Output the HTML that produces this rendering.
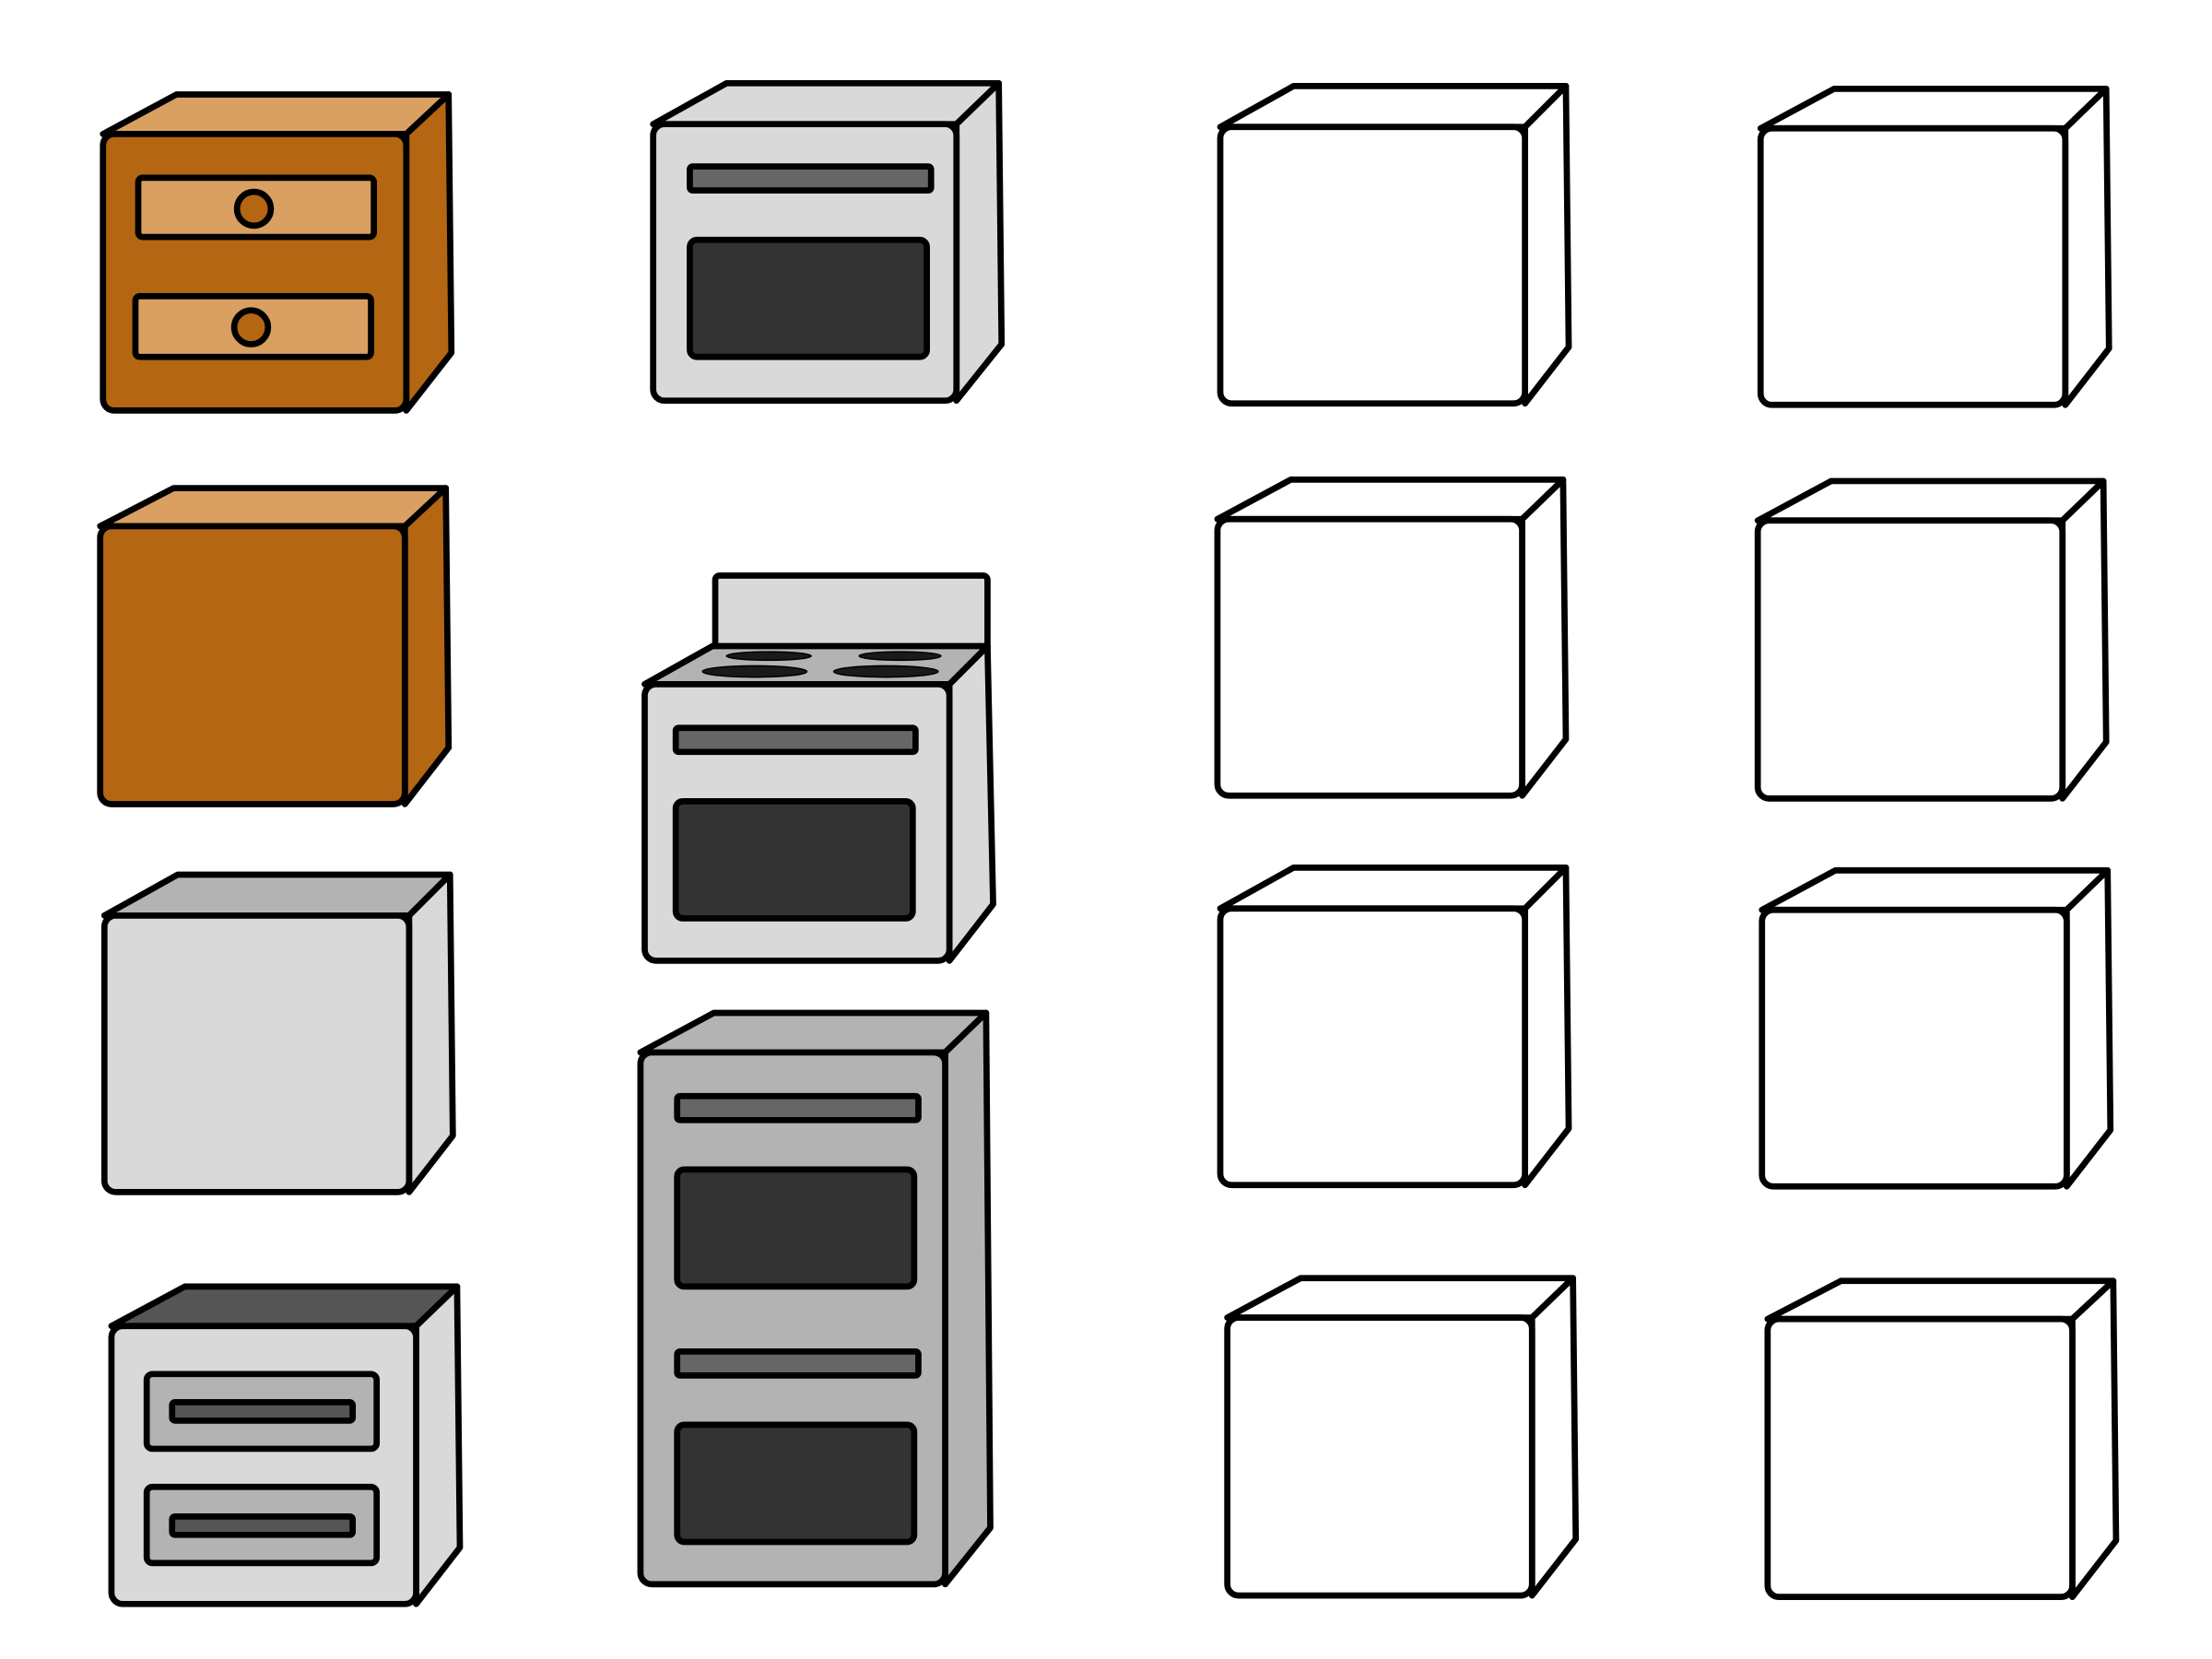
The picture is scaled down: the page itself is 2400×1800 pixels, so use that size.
<!DOCTYPE html>
<html><head><meta charset="utf-8"><style>html,body{margin:0;padding:0;background:#fff;width:2400px;height:1800px;overflow:hidden}svg{display:block}</style></head>
<body>
<svg width="2400" height="1800" viewBox="0 0 1568 1176" xmlns="http://www.w3.org/2000/svg">
<g stroke="#000" stroke-width="4.4" stroke-linejoin="round" stroke-linecap="round">
<!-- A brown drawers -->
<polygon points="73,95 125,67 318,67 288,95" fill="#d9a062"/>
<polygon points="288,95 318,67 320,250 288,291" fill="#b46612"/>
<rect x="73" y="95" width="215" height="196" rx="8" fill="#b46612"/>
<rect x="98" y="126" width="167" height="42" rx="3" fill="#d9a062"/>
<ellipse cx="180" cy="148" rx="12" ry="12" fill="#b46612"/>
<rect x="96" y="210" width="167" height="43" rx="3" fill="#d9a062"/>
<ellipse cx="178" cy="232" rx="12" ry="12" fill="#b46612"/>
<!-- B oven -->
<polygon points="463,88 515,59 708,59 678,88" fill="#d9d9d9"/>
<polygon points="678,88 708,59 710,244 678,284" fill="#d9d9d9"/>
<rect x="463" y="88" width="215" height="196" rx="8" fill="#d9d9d9"/>
<rect x="489" y="118" width="171" height="17" rx="2" fill="#666"/>
<rect x="489" y="170" width="168" height="83" rx="5" fill="#333"/>
<!-- C -->
<polygon points="865,90 917,61 1110,61 1081,90" fill="#fff"/>
<polygon points="1081,90 1110,61 1112,246 1081,286" fill="#fff"/>
<rect x="865" y="90" width="216" height="196" rx="8" fill="#fff"/>
<!-- D -->
<polygon points="1248,91 1300,63 1493,63 1464,91" fill="#fff"/>
<polygon points="1464,91 1493,63 1495,247 1464,287" fill="#fff"/>
<rect x="1248" y="91" width="216" height="196" rx="8" fill="#fff"/>
<!-- E brown plain -->
<polygon points="71,373 123,346 316,346 287,373" fill="#d9a062"/>
<polygon points="287,373 316,346 318,530 287,570" fill="#b46612"/>
<rect x="71" y="373" width="216" height="197" rx="8" fill="#b46612"/>
<!-- F -->
<polygon points="863,368 915,340 1108,340 1079,368" fill="#fff"/>
<polygon points="1079,368 1108,340 1110,524 1079,564" fill="#fff"/>
<rect x="863" y="368" width="216" height="196" rx="8" fill="#fff"/>
<!-- G -->
<polygon points="1246,369 1298,341 1491,341 1462,369" fill="#fff"/>
<polygon points="1462,369 1491,341 1493,526 1462,566" fill="#fff"/>
<rect x="1246" y="369" width="216" height="197" rx="8" fill="#fff"/>
<!-- H stove -->
<rect x="507" y="408" width="193" height="55" rx="3" fill="#d9d9d9"/>
<polygon points="673,485 700,458 704,641 673,681" fill="#d9d9d9"/>
<polygon points="457,485 505,458 700,458 673,485" fill="#b3b3b3"/>
<rect x="457" y="485" width="216" height="196" rx="8" fill="#d9d9d9"/>
<rect x="479" y="516" width="170" height="17" rx="2" fill="#666"/>
<rect x="479" y="568" width="168" height="83" rx="5" fill="#333"/>
</g>
<g fill="#1a1a1a" stroke="#000" stroke-width="1">
<ellipse cx="545" cy="465" rx="30" ry="3"/>
<ellipse cx="638" cy="465" rx="29" ry="3"/>
<ellipse cx="535" cy="476" rx="37" ry="4"/>
<ellipse cx="628" cy="476" rx="37" ry="4"/>
</g>
<g stroke="#000" stroke-width="4.4" stroke-linejoin="round" stroke-linecap="round">
<!-- I grey -->
<polygon points="74,649 126,620 319,620 290,649" fill="#b3b3b3"/>
<polygon points="290,649 319,620 321,805 290,845" fill="#d9d9d9"/>
<rect x="74" y="649" width="216" height="196" rx="8" fill="#d9d9d9"/>
<!-- J -->
<polygon points="865,644 917,615 1110,615 1081,644" fill="#fff"/>
<polygon points="1081,644 1110,615 1112,800 1081,840" fill="#fff"/>
<rect x="865" y="644" width="216" height="196" rx="8" fill="#fff"/>
<!-- K -->
<polygon points="1249,645 1301,617 1494,617 1465,645" fill="#fff"/>
<polygon points="1465,645 1494,617 1496,801 1465,841" fill="#fff"/>
<rect x="1249" y="645" width="216" height="196" rx="8" fill="#fff"/>
<!-- L tall -->
<polygon points="454,746 506,718 699,718 670,746" fill="#b3b3b3"/>
<polygon points="670,746 699,718 702,1083 670,1123" fill="#b3b3b3"/>
<rect x="454" y="746" width="216" height="377" rx="8" fill="#b3b3b3"/>
<rect x="480" y="777" width="171" height="17" rx="2" fill="#666"/>
<rect x="480" y="829" width="168" height="83" rx="5" fill="#333"/>
<rect x="480" y="958" width="171" height="17" rx="2" fill="#666"/>
<rect x="480" y="1010" width="168" height="83" rx="5" fill="#333"/>
<!-- M -->
<polygon points="79,940 131,912 324,912 295,940" fill="#555"/>
<polygon points="295,940 324,912 326,1097 295,1137" fill="#d9d9d9"/>
<rect x="79" y="940" width="216" height="197" rx="8" fill="#d9d9d9"/>
<rect x="104" y="974" width="163" height="53" rx="4" fill="#b3b3b3"/>
<rect x="122" y="994" width="128" height="13" rx="2" fill="#555"/>
<rect x="104" y="1054" width="163" height="54" rx="4" fill="#b3b3b3"/>
<rect x="122" y="1075" width="128" height="13" rx="2" fill="#555"/>
<!-- N -->
<polygon points="870,934 922,906 1115,906 1086,934" fill="#fff"/>
<polygon points="1086,934 1115,906 1117,1091 1086,1131" fill="#fff"/>
<rect x="870" y="934" width="216" height="197" rx="8" fill="#fff"/>
<!-- O -->
<polygon points="1253,935 1305,908 1498,908 1469,935" fill="#fff"/>
<polygon points="1469,935 1498,908 1500,1092 1469,1132" fill="#fff"/>
<rect x="1253" y="935" width="216" height="197" rx="8" fill="#fff"/>
</g>
</svg>
</body></html>
